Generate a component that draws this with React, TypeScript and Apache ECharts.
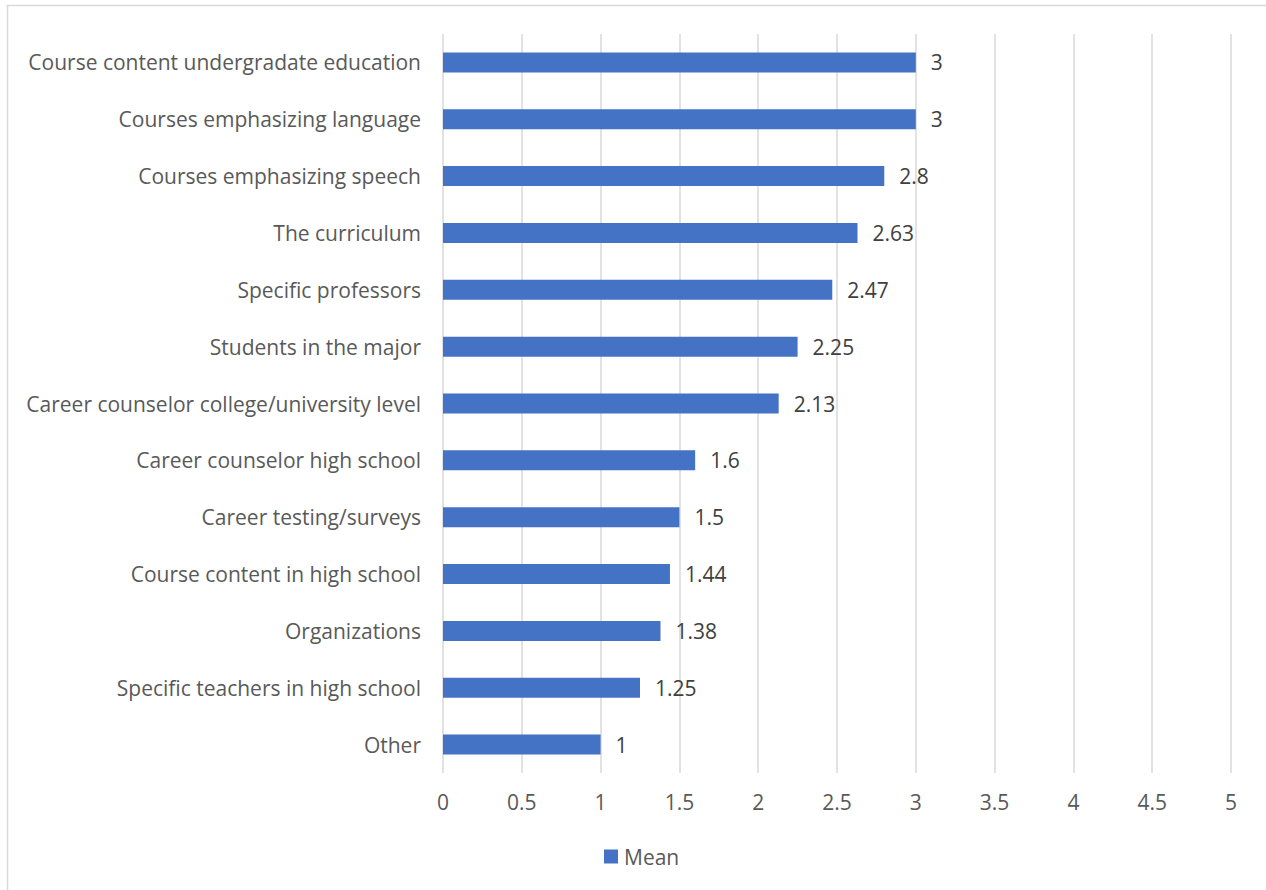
import React, { useEffect, useRef } from "react";
import * as echarts from "echarts";

const categories = [
  "Course content undergradate education",
  "Courses emphasizing language",
  "Courses emphasizing speech",
  "The curriculum",
  "Specific professors",
  "Students in the major",
  "Career counselor college/university level",
  "Career counselor high school",
  "Career testing/surveys",
  "Course content in high school",
  "Organizations",
  "Specific teachers in high school",
  "Other",
];
const meanValues = [3, 3, 2.8, 2.63, 2.47, 2.25, 2.13, 1.6, 1.5, 1.44, 1.38, 1.25, 1];
const seriesName = "Mean";

const FONT = "'Open Sans', sans-serif";
const FS = 21;

export default function App() {
  const ref = useRef<HTMLDivElement>(null);
  useEffect(() => {
    if (!ref.current) return;
    const chart = echarts.init(ref.current, undefined, { renderer: "svg" });
    chart.setOption({
      animation: false,
      backgroundColor: "#ffffff",
      textStyle: { fontFamily: FONT },
      graphic: [
        {
          type: "rect",
          shape: { x: 7.5, y: 5.5, width: 1300, height: 1000 },
          style: { fill: "none", stroke: "#d9d9d9", lineWidth: 1.5 },
          silent: true,
          z: -10,
        },
      ],
      grid: { left: 443, right: 35, top: 34, bottom: 117, containLabel: false },
      legend: {
        data: [seriesName],
        left: 599,
        top: 841,
        icon: "rect",
        itemWidth: 14,
        itemHeight: 14,
        itemGap: 10,
        textStyle: { fontFamily: FONT, fontSize: FS, color: "#595959", padding: [0, 0, 0, 1] },
      },
      xAxis: {
        type: "value",
        min: 0,
        max: 5,
        interval: 0.5,
        axisLine: { show: false },
        axisTick: { show: false },
        splitLine: { show: true, lineStyle: { color: "#d9d9d9", width: 1.5 } },
        axisLabel: { color: "#595959", fontSize: FS, fontFamily: FONT, margin: 18 },
      },
      yAxis: {
        type: "category",
        data: categories,
        inverse: true,
        axisLine: { show: false },
        axisTick: { show: false },
        splitLine: { show: false },
        axisLabel: { color: "#595959", fontSize: FS, fontFamily: FONT, margin: 22 },
      },
      series: [
        {
          name: seriesName,
          type: "bar",
          data: meanValues,
          barWidth: 20,
          itemStyle: { color: "#4472C4" },
          label: {
            show: true,
            position: "right",
            distance: 15,
            color: "#404040",
            fontSize: FS,
            fontFamily: FONT,
          },
        },
      ],
    });
    return () => chart.dispose();
  }, []);
  return (
    <div
      ref={ref}
      style={{ position: "fixed", left: 0, top: 0, width: 1266, height: 890 }}
    />
  );
}
